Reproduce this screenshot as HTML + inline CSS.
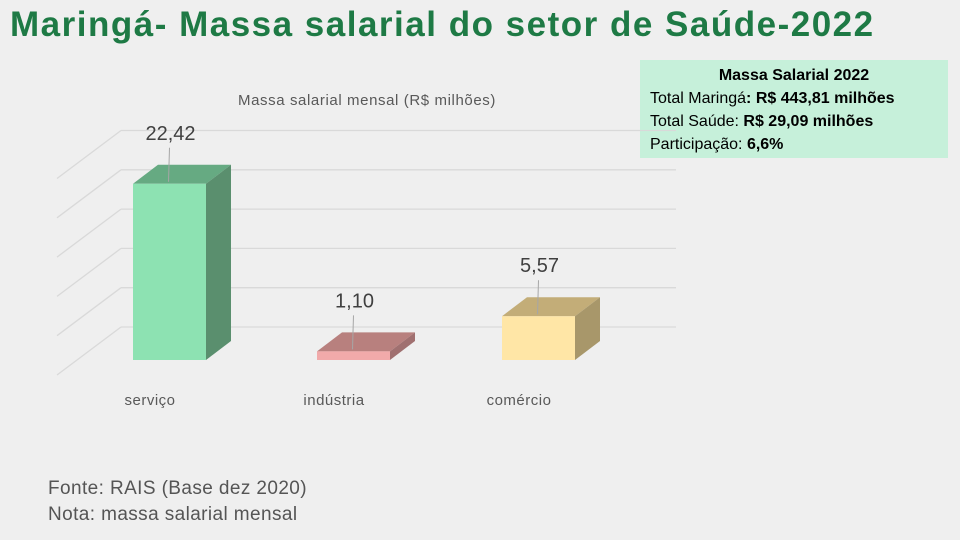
<!DOCTYPE html>
<html><head><meta charset="utf-8"><style>
body{margin:0;width:960px;height:540px;background:#efefef;font-family:"Liberation Sans",sans-serif;overflow:hidden;position:relative}
h1{position:absolute;left:10px;top:5px;margin:0;font-size:35px;font-weight:bold;color:#1e7a45;letter-spacing:1.5px}
.box{position:absolute;left:640px;top:60px;width:308px;height:98px;background:#c6f0da;font-size:16px;color:#000;box-sizing:border-box;padding:4px 10px;line-height:23px}
.foot{position:absolute;left:48px;top:476px;font-size:19px;color:#555;line-height:26px;letter-spacing:0.4px}
</style></head><body>
<h1>Maringá- Massa salarial do setor de Saúde-2022</h1>
<div class="box">
<div style="text-align:center;font-weight:bold">Massa Salarial 2022</div>
<div>Total Maringá<b>: R$ 443,81 milhões</b></div>
<div>Total Saúde: <b>R$ 29,09 milhões</b></div>
<div>Participação: <b>6,6%</b></div>
</div>
<svg id="chart" width="960" height="540" style="position:absolute;left:0;top:0">
<text x="367" y="105" text-anchor="middle" font-size="15" letter-spacing="0.6" fill="#595959" font-family="Liberation Sans, sans-serif">Massa salarial  mensal (R$ milhões)</text>
<g id="grid"></g><g id="bars"></g>
</svg>
<div class="foot">Fonte: RAIS (Base dez 2020)<br>Nota: massa salarial mensal</div>
<script>
const categories=["serviço","indústria","comércio"];
const values=[22.42,1.10,5.57];
const labels=["22,42","1,10","5,57"];
const ticks=[0,5,10,15,20,25];
const NS="http://www.w3.org/2000/svg";
const backZero=327,pxPerUnit=7.86,gx0=121,gx1=676,ddx=64,ddy=48;
const frontZero=360,barW=73,bdx=25,bdy=19;
const barX=[133,317,502];
const colors=[["#8de2b2","#66aa82","#5a8f6e"],["#f1aaaa","#b8807e","#a07070"],["#ffe6a6","#c3ad78","#a8976a"]];
function yBack(v){return backZero-v*pxPerUnit;}
function yFront(v){return frontZero-v*pxPerUnit;}
function mk(tag,attrs,parent){const e=document.createElementNS(NS,tag);for(const k in attrs)e.setAttribute(k,attrs[k]);parent.appendChild(e);return e;}
const grid=document.getElementById('grid'),bars=document.getElementById('bars');
ticks.forEach(t=>{const y=yBack(t);
const l=mk('line',{x1:gx0,y1:y,x2:gx1,y2:y,stroke:"#d9d9d9","stroke-width":1.3},grid);


const d=mk('line',{x1:gx0,y1:y,x2:gx0-ddx,y2:y+ddy,stroke:"#d9d9d9","stroke-width":1.3},grid);


});
values.forEach((v,i)=>{const x=barX[i],yt=yFront(v),c=colors[i];
const g=mk('g',{},bars);


mk('polygon',{points:`${x},${yt} ${x+bdx},${yt-bdy} ${x+barW+bdx},${yt-bdy} ${x+barW},${yt}`,fill:c[1]},g);
mk('polygon',{points:`${x+barW},${yt} ${x+barW+bdx},${yt-bdy} ${x+barW+bdx},${frontZero-bdy} ${x+barW},${frontZero}`,fill:c[2]},g);
mk('rect',{x:x,y:yt,width:barW,height:frontZero-yt,fill:c[0]},g);
const cx=x+barW/2,ly=yt-bdy-25;
mk('line',{x1:cx,y1:ly+8,x2:cx-1,y2:yt-2,stroke:"#a6a6a6","stroke-width":1},g);
const t=mk('text',{x:cx+1,y:ly,"text-anchor":"middle","font-size":20,fill:"#404040","font-family":"Liberation Sans, sans-serif"},g);
t.textContent=labels[i];


const ct=mk('text',{x:x+17,y:405,"text-anchor":"middle","font-size":15,"letter-spacing":0.5,fill:"#595959","font-family":"Liberation Sans, sans-serif"},bars);
ct.textContent=categories[i];


});
</script>
</body></html>
